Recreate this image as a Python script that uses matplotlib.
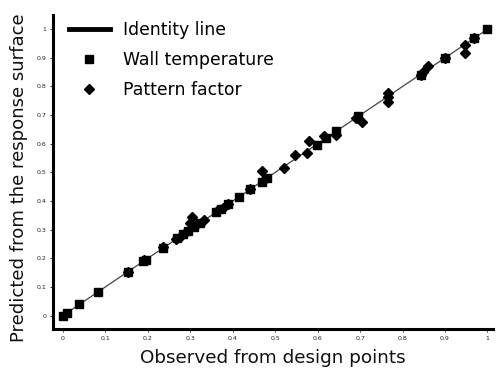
import numpy as np
import matplotlib
matplotlib.use('Agg')
import matplotlib.pyplot as plt

# Wall temperature (squares)
wt_x = [0.0, 0.009, 0.039, 0.084, 0.153, 0.190, 0.196, 0.236, 0.270, 0.283, 0.296,
        0.310, 0.323, 0.361, 0.372, 0.390, 0.414, 0.441, 0.468, 0.480, 0.598,
        0.620, 0.644, 0.696, 0.843, 0.900, 0.969, 1.0]
wt_y = [0.0, 0.008, 0.041, 0.084, 0.151, 0.190, 0.196, 0.236, 0.272, 0.284, 0.297,
        0.311, 0.324, 0.361, 0.371, 0.389, 0.413, 0.441, 0.468, 0.480, 0.596,
        0.620, 0.644, 0.698, 0.840, 0.899, 0.969, 1.0]

# Pattern factor (diamonds)
pf_x = [0.153, 0.192, 0.237, 0.266, 0.276, 0.288, 0.300, 0.304, 0.317, 0.333,
        0.364, 0.378, 0.389, 0.442, 0.468, 0.472, 0.521, 0.547, 0.575, 0.579,
        0.614, 0.644, 0.690, 0.704, 0.765, 0.765, 0.765, 0.843, 0.849, 0.861,
        0.900, 0.946, 0.946, 0.969]
pf_y = [0.151, 0.194, 0.241, 0.266, 0.276, 0.290, 0.325, 0.343, 0.319, 0.334,
        0.366, 0.376, 0.389, 0.443, 0.505, 0.470, 0.517, 0.561, 0.567, 0.608,
        0.627, 0.632, 0.689, 0.675, 0.776, 0.762, 0.745, 0.840, 0.852, 0.873,
        0.899, 0.918, 0.945, 0.969]

ticks = [0, 0.1, 0.2, 0.3, 0.4, 0.5, 0.6, 0.7, 0.8, 0.9, 1]
tick_labels = ['0', '0.1', '0.2', '0.3', '0.4', '0.5', '0.6', '0.7', '0.8', '0.9', '1']

fig = plt.figure(figsize=(5, 3.72), dpi=100)
ax = fig.add_axes([0.106, 0.116, 0.88, 0.844])

ax.plot([0, 1], [0, 1], color='#444444', linewidth=0.9, label='Identity line', zorder=2)
ax.plot(wt_x, wt_y, 's', color='black', markersize=5.6, linestyle='none',
        label='Wall temperature', zorder=3)
ax.plot(pf_x, pf_y, 'D', color='black', markersize=5.0, linestyle='none',
        label='Pattern factor', zorder=3)

ax.set_xlim(-0.023, 1.013)
ax.set_ylim(-0.046, 1.05)
ax.set_xticks(ticks)
ax.set_xticklabels(tick_labels)
ax.set_yticks(ticks)
ax.set_yticklabels(tick_labels)
ax.tick_params(labelsize=4.5, length=2, width=0.6, colors='#222222', pad=3)

for side in ['top', 'right']:
    ax.spines[side].set_visible(False)
for side in ['left', 'bottom']:
    ax.spines[side].set_linewidth(2.2)

ax.set_xlabel('Observed from design points', fontsize=13.2, color='#111111', labelpad=6)
ax.set_ylabel('Predicted from the response surface', fontsize=13.1, color='#111111')
ax.yaxis.set_label_coords(-0.057, 0.48)

leg = ax.legend(loc='upper left', bbox_to_anchor=(0.0, 1.03), frameon=False,
                fontsize=12.4, handlelength=2.4, handletextpad=0.75, labelspacing=0.7,
                markerscale=1.1)
leg.get_lines()[0].set_linewidth(3.5)
leg.get_lines()[0].set_color('black')

fig.savefig('out.png', dpi=100)
